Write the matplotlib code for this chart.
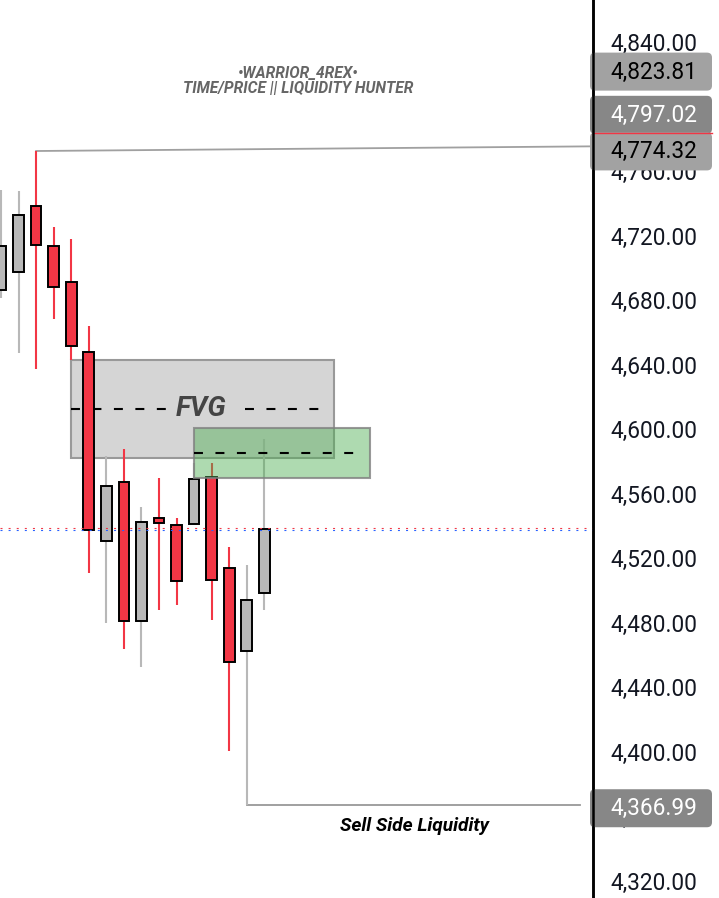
import matplotlib
matplotlib.use('Agg')
import matplotlib.pyplot as plt
from matplotlib.patches import Rectangle, FancyBboxPatch
from matplotlib.ticker import FuncFormatter, MultipleLocator

plt.rcParams['font.family'] = ['Roboto', 'DejaVu Sans']

# OHLC
opens = [4686.2, 4697.4, 4738.5, 4713.7, 4691.4, 4647.9, 4530.5, 4567.3,
         4480.9, 4545.0, 4540.7, 4541.1, 4570.4, 4514.0, 4462.3, 4498.1]
highs = [4748.2, 4747.6, 4772.4, 4725.1, 4717.8, 4663.9, 4583.3, 4587.6,
         4551.6, 4569.6, 4544.8, 4578.9, 4578.9, 4526.8, 4515.7, 4593.8]
lows = [4681.2, 4647.1, 4637.4, 4668.4, 4642.8, 4510.9, 4479.9, 4463.8,
        4452.6, 4487.9, 4491.0, 4541.1, 4481.7, 4400.5, 4366.99, 4487.8]
closes = [4713.5, 4732.9, 4714.1, 4688.2, 4651.5, 4537.4, 4564.8, 4480.9,
          4542.5, 4541.7, 4505.7, 4569.2, 4506.4, 4455.5, 4494.1, 4538.2]

# zones: (start bar, end bar, bottom, top)
fvg_zone = (4, 19.0, 4582.2, 4642.8)
green_zone = (11, 21.0, 4569.8, 4600.8)

# lines
high_ray = ([2, 33.73], [4772.4, 4775.3])
ssl_line = ([14, 33.0], [4366.99, 4366.99])

# price scale labels: (value, box colour, text colour)
price_labels = [(4823.81, '#a2a2a2', 'black'),
                (4797.02, '#878787', 'white'),
                (4774.32, '#a2a2a2', 'black'),
                (4366.99, '#878787', 'white')]
red_level = 4783.5

UP_BODY = '#b8b8b8'
UP_WICK = '#b8b8b8'
DN_BODY = '#f23645'

fig = plt.figure(figsize=(7.19, 8.98), dpi=100)
ax = fig.add_axes([0, 0, 593 / 719, 1])
ax.set_xlim(-0.057, 33.73)
ax.set_ylim(4309.15, 4866.05)

# zones
x0, x1, b, t = fvg_zone
ax.add_patch(Rectangle((x0, b), x1 - x0, t - b, fc='#d5d5d5', ec='#999999', lw=1.5, zorder=1))
mid = (b + t) / 2
ax.plot([x0, 9.6], [mid, mid], color='black', lw=1.5, ls=(0, (4.3, 6)), zorder=2)
ax.plot([13.9, x1 - 0.5], [mid, mid], color='black', lw=1.5, ls=(0, (4.3, 6)), zorder=2)
ax.text((x0 + x1) / 2 - 0.1, mid, 'FVG', fontsize=20, fontweight='bold', style='italic',
        color='#444444', ha='center', va='center', zorder=2)

# candles
w = 0.61
for i, (o, h, l, c) in enumerate(zip(opens, highs, lows, closes)):
    up = c >= o
    col = UP_WICK if up else DN_BODY
    ax.plot([i, i], [l, h], color=col, lw=1.5, zorder=3, solid_capstyle='butt')
    ax.add_patch(Rectangle((i - w / 2, min(o, c)), w, max(abs(c - o), 1.2),
                           fc=UP_BODY if up else DN_BODY, ec='black', lw=1.4, zorder=4))

x0, x1, b, t = green_zone
ax.add_patch(Rectangle((x0, b), x1 - x0, t - b, fc='#4caf50', alpha=0.45, ec='none', zorder=5))
ax.add_patch(Rectangle((x0, b), x1 - x0, t - b, fill=False, ec='#808080', alpha=0.8, lw=1.5, zorder=5))
mid = (b + t) / 2
ax.plot([x0, x1 - 0.5], [mid, mid], color='black', lw=1.5, ls=(0, (4.3, 6)), zorder=5)

ax.plot(*high_ray, color='#a0a0a0', lw=1.3, zorder=2)
ax.plot(*ssl_line, color='#999999', lw=1.3, zorder=2)
ax.text(23.55, 4354, 'Sell Side Liquidity', fontsize=13.8, fontweight='bold', style='italic',
        color='black', ha='center', va='center')

# last price dotted line: red dots on top, blue just below
last = closes[-1]
ax.axhline(last + 0.6, color='#f23645', lw=0.8, ls=(0, (1.8, 5.5)), zorder=6)
ax.axhline(last - 0.6, color='#2962ff', lw=0.8, ls=(0, (1.8, 5.5)), zorder=6)

ax.text(0.503, 1 - 81 / 898, '\u2022WARRIOR_4REX\u2022\nTIME/PRICE || LIQUIDITY HUNTER',
        transform=ax.transAxes, ha='center', va='center', fontsize=11.2, fontweight='bold',
        style='italic', color='#666666', linespacing=0.92)

# axis styling
for s in ['top', 'left', 'bottom']:
    ax.spines[s].set_visible(False)
ax.spines['right'].set_linewidth(1.8)
ax.set_xticks([])
ax.yaxis.tick_right()
ax.yaxis.set_major_locator(MultipleLocator(40))
ax.yaxis.set_major_formatter(FuncFormatter(lambda v, p: '{:,.2f}'.format(v)))
ax.tick_params(axis='y', length=0, pad=12.5, labelsize=16.3, labelcolor='#131722')

# overlay in pixel coordinates for the price-scale labels
ov = fig.add_axes([0, 0, 1, 1], zorder=10)
ov.set_xlim(0, 719)
ov.set_ylim(0, 898)
ov.axis('off')
ov.patch.set_alpha(0)
to_px = ax.transData.transform
ry = to_px((0, red_level))[1]
ov.plot([593, 712], [ry, ry], color='#f23645', lw=1.0)
for val, fc, tc in price_labels:
    y = to_px((0, val))[1] - 1.5
    ov.add_patch(FancyBboxPatch((590, y - 21), 122, 38, boxstyle='round,pad=0,rounding_size=5',
                                fc=fc, ec='none'))
    ov.text(610, y, '{:,.2f}'.format(val), fontsize=16.3, color=tc, ha='left', va='center_baseline')
ov.plot([593, 593], [0, 898], color='black', lw=1.8)

fig.savefig('out.png', dpi=100)
